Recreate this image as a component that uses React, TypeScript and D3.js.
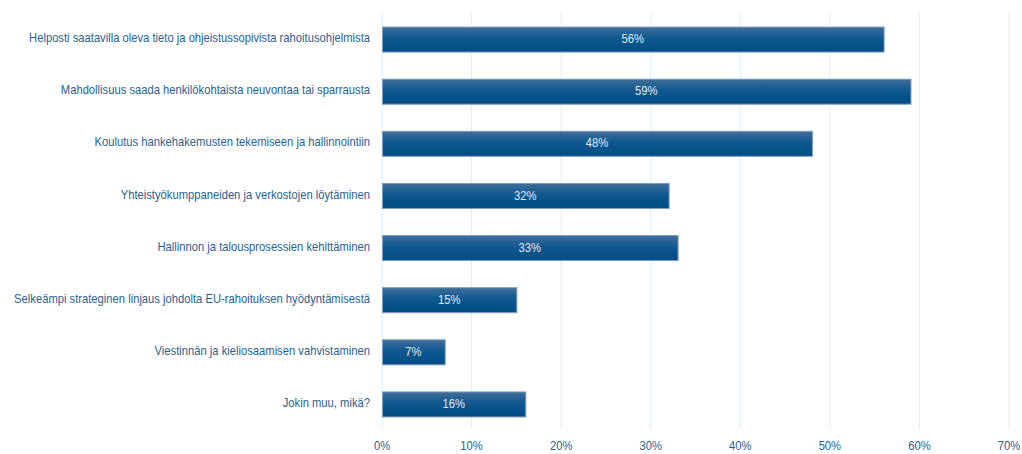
import React, { useRef, useEffect } from 'react';
import * as d3 from 'd3';

const categories = [
  'Helposti saatavilla oleva tieto ja ohjeistussopivista rahoitusohjelmista',
  'Mahdollisuus saada henkilökohtaista neuvontaa tai sparrausta',
  'Koulutus hankehakemusten tekemiseen ja hallinnointiin',
  'Yhteistyökumppaneiden ja verkostojen löytäminen',
  'Hallinnon ja talousprosessien kehittäminen',
  'Selkeämpi strateginen linjaus johdolta EU-rahoituksen hyödyntämisestä',
  'Viestinnän ja kieliosaamisen vahvistaminen',
  'Jokin muu, mikä?',
];
const values = [56, 59, 48, 32, 33, 15, 7, 16];
const ticks = [0, 10, 20, 30, 40, 50, 60, 70];

const width = 1022;
const height = 454;

const App: React.FC = () => {
  const svgRef = useRef<SVGSVGElement>(null);

  useEffect(() => {
    if (!svgRef.current) return;
    const svg = d3.select(svgRef.current);
    svg.selectAll('*').remove();

    const margin = { top: 13, right: 12, bottom: 25, left: 382 };
    const font = '"Liberation Sans", Arial, sans-serif';
    const squeeze = 0.935; // the original font is a narrow one

    const x = d3.scaleLinear().domain([0, 70]).range([margin.left, 1009]);
    const y = d3.scaleBand<string>()
      .domain(categories)
      .range([margin.top, height - margin.bottom + 1])
      .paddingInner(0.52)
      .paddingOuter(0.26);

    // gradient for bars
    const defs = svg.append('defs');
    const grad = defs.append('linearGradient')
      .attr('id', 'barGrad')
      .attr('x1', 0).attr('y1', 0).attr('x2', 0).attr('y2', 1);
    grad.append('stop').attr('offset', '0%').attr('stop-color', '#416e9a');
    grad.append('stop').attr('offset', '45%').attr('stop-color', '#0f5890');
    grad.append('stop').attr('offset', '100%').attr('stop-color', '#004c86');

    // gridlines
    svg.append('g')
      .selectAll('line')
      .data(ticks)
      .enter()
      .append('line')
      .attr('x1', d => x(d))
      .attr('x2', d => x(d))
      .attr('y1', margin.top)
      .attr('y2', height - margin.bottom)
      .attr('stroke', '#deeefb')
      .attr('stroke-width', 1);

    // tick labels
    svg.append('g')
      .selectAll('text')
      .data(ticks)
      .enter()
      .append('text')
      .attr('transform', d => `translate(${x(d)},447) scale(${squeeze},1)`)
      .attr('text-anchor', 'middle')
      .attr('dominant-baseline', 'middle')
      .attr('font-family', font)
      .attr('font-size', '12px')
      .attr('fill', '#2b6191')
      .text(d => `${d}%`);

    // category labels
    svg.append('g')
      .selectAll('text')
      .data(categories)
      .enter()
      .append('text')
      .attr('transform', d => `translate(370,${(y(d) ?? 0) + y.bandwidth() / 2}) scale(${squeeze},1)`)
      .attr('text-anchor', 'end')
      .attr('dominant-baseline', 'middle')
      .attr('font-family', font)
      .attr('font-size', '12px')
      .attr('fill', '#2b6191')
      .text(d => d);

    // bars
    svg.append('g')
      .selectAll('rect')
      .data(values)
      .enter()
      .append('rect')
      .attr('x', x(0) + 0.5)
      .attr('y', (d, i) => (y(categories[i]) ?? 0) + 0.5)
      .attr('width', d => x(d) - x(0))
      .attr('height', y.bandwidth())
      .attr('fill', 'url(#barGrad)')
      .attr('stroke', '#7f9ec0')
      .attr('stroke-width', 1);

    // value labels
    svg.append('g')
      .selectAll('text')
      .data(values)
      .enter()
      .append('text')
      .attr('transform', (d, i) => `translate(${(x(0) + x(d)) / 2},${(y(categories[i]) ?? 0) + y.bandwidth() / 2 + 1}) scale(${squeeze},1)`)
      .attr('text-anchor', 'middle')
      .attr('dominant-baseline', 'middle')
      .attr('font-family', font)
      .attr('font-size', '12px')
      .attr('fill', '#e3edf6')
      .text(d => `${d}%`);
  }, []);

  return (
    <svg
      ref={svgRef}
      width={width}
      height={height}
      style={{ position: 'absolute', left: 0, top: 0, background: '#fff' }}
    />
  );
};

export default App;
